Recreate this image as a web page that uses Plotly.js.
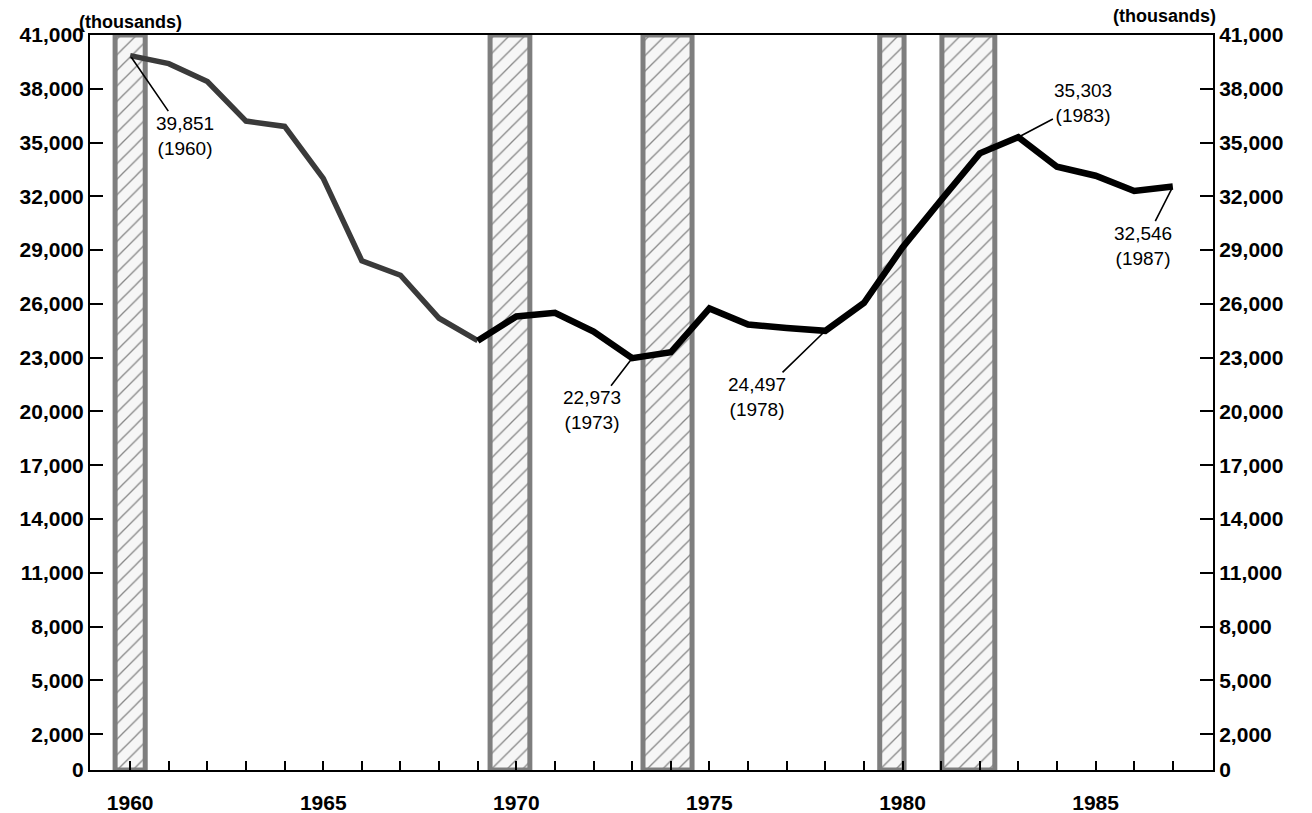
<!DOCTYPE html>
<html>
<head>
<meta charset="utf-8">
<script src="https://cdn.plot.ly/plotly-3.0.1.min.js"></script>
<style>html,body{margin:0;padding:0;background:#fff;}#chart{width:1312px;height:813px;}</style>
</head>
<body>
<div id="chart"></div>
<script>
// Data (thousands of persons)
const years = [1960,1961,1962,1963,1964,1965,1966,1967,1968,1969,1970,1971,1972,1973,
               1974,1975,1976,1977,1978,1979,1980,1981,1982,1983,1984,1985,1986,1987];
const values = [39851,39400,38400,36200,35900,33000,28400,27600,25200,23950,25300,25500,24450,22973,
                23300,25750,24850,24650,24497,26050,29150,31800,34400,35303,33650,33150,32300,32546];
// Shaded periods (start, end in fractional years)
const bandStart = [1959.61, 1969.32, 1973.28, 1979.41, 1981.02];
const bandEnd   = [1960.39, 1970.35, 1974.55, 1980.04, 1982.39];
// Tick labels
const yTicks = [0,2000,5000,8000,11000,14000,17000,20000,23000,26000,29000,32000,35000,38000,41000];
const xLabelYears = [1960,1965,1970,1975,1980,1985];
// Labelled points
const callouts = [
  {year:1960, value:39851, ax:55, ay:80},
  {year:1973, value:22973, ax:-40, ay:52},
  {year:1978, value:24497, ax:-68, ay:66},
  {year:1983, value:35303, ax:65, ay:-34},
  {year:1987, value:32546, ax:-30, ay:59}
];

const splitIdx = years.indexOf(1969);
const FONT = 'Liberation Sans, Arial, sans-serif';

const bandTrace = {
  type:'bar', xaxis:'x', yaxis:'y',
  x: bandStart.map((s,i)=>(s+bandEnd[i])/2),
  y: bandStart.map(()=>41000),
  width: bandStart.map((s,i)=>bandEnd[i]-s),
  marker:{color:'#f6f6f6', pattern:{shape:'/', fgcolor:'#888', bgcolor:'#f6f6f6', size:11, solidity:0.12},
          line:{color:'#7e7e7e', width:5}},
  showlegend:false, hoverinfo:'skip'
};
const earlyLine = {
  type:'scatter', mode:'lines', xaxis:'x', yaxis:'y2',
  x: years.slice(0, splitIdx+1), y: values.slice(0, splitIdx+1),
  line:{color:'#3a3a3a', width:5.5}, showlegend:false, hoverinfo:'skip'
};
const lateLine = {
  type:'scatter', mode:'lines', xaxis:'x', yaxis:'y2',
  x: years.slice(splitIdx), y: values.slice(splitIdx),
  line:{color:'#000', width:6.5}, showlegend:false, hoverinfo:'skip'
};

const yCommon = {
  range:[0,41000], fixedrange:true, tickvals:yTicks, tickformat:',',
  ticks:'inside', ticklen:13, tickwidth:2, tickcolor:'#000',
  showline:true, linecolor:'#000', linewidth:2, showgrid:false, zeroline:false,
  tickfont:{family:FONT, size:21, color:'#000', weight:'bold'}
};

const annotations = callouts.map(c=>({
  x:c.year, y:c.value, xref:'x', yref:'y2',
  text: c.value.toLocaleString('en-US') + '<br>(' + c.year + ')',
  showarrow:true, arrowhead:0, arrowwidth:1.6, arrowcolor:'#000',
  ax:c.ax, ay:c.ay, standoff:2,
  font:{family:FONT, size:19, color:'#000'}
}));
annotations.push({xref:'paper', yref:'paper', x:0.0365, y:1.018, xanchor:'center', yanchor:'middle',
  text:'(thousands)', showarrow:false, font:{family:FONT, size:18, color:'#000', weight:'bold'}});
annotations.push({xref:'paper', yref:'paper', x:0.9564, y:1.026, xanchor:'center', yanchor:'middle',
  text:'(thousands)', showarrow:false, font:{family:FONT, size:18, color:'#000', weight:'bold'}});

const layout = {
  width:1312, height:813,
  margin:{l:90, r:99, t:35, b:43},
  paper_bgcolor:'#fff', plot_bgcolor:'#fff',
  barmode:'overlay', hovermode:false, showlegend:false,
  xaxis:{
    range:[1958.96, 1988.04], fixedrange:true,
    tickvals: years, ticktext: years.map(y=> xLabelYears.includes(y) ? String(y) : ''),
    ticks:'inside', ticklen:9, tickwidth:2, tickcolor:'#000',
    showline:true, mirror:true, linecolor:'#000', linewidth:2, showgrid:false, zeroline:false,
    ticklabelstandoff:13,
    tickfont:{family:FONT, size:21, color:'#000', weight:'bold'}
  },
  yaxis: Object.assign({}, yCommon, {side:'left'}),
  yaxis2: Object.assign({}, yCommon, {side:'right', overlaying:'y'}),
  annotations: annotations
};

Plotly.newPlot('chart', [bandTrace, earlyLine, lateLine], layout, {staticPlot:true, displayModeBar:false});
</script>
</body>
</html>
